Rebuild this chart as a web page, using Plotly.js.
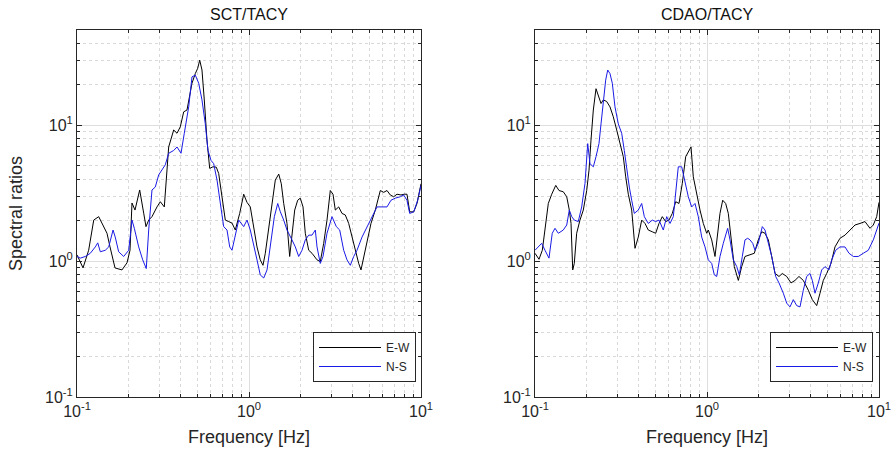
<!DOCTYPE html>
<html>
<head>
<meta charset="utf-8">
<script src="https://cdn.plot.ly/plotly-3.0.1.min.js"></script>
<style>
html,body{margin:0;padding:0;background:#fff;}
#chart{width:892px;height:461px;}
</style>
</head>
<body>
<div id="chart"></div>
<script>
// ---------- Data ----------
const panelTitles = ['SCT/TACY', 'CDAO/TACY'];
const seriesNames = ['E-W', 'N-S'];
const xTitle = 'Frequency [Hz]';
const yTitle = 'Spectral ratios';
const tickVals = [0.1, 1, 10];
const tickText = ['10<sup>-1</sup>', '10<sup>0</sup>', '10<sup>1</sup>'];

// SCT/TACY, E-W
const sctEwFreq = [0.100,0.1084,0.1169,0.1251,0.1337,0.1397,0.1494,0.1556,0.1663,0.1826,0.1953,0.2033,0.2088,0.2174,0.2315,0.2442,0.2518,0.2611,0.2729,0.2918,0.3050,0.3218,0.3305,0.3412,0.3649,0.3814,0.3986,0.4172,0.4360,0.4662,0.4873,0.5031,0.5169,0.5329,0.5496,0.5698,0.5907,0.6175,0.6454,0.6665,0.6966,0.7281,0.7621,0.7966,0.8325,0.8828,0.9315,0.9736,1.0176,1.065,1.113,1.163,1.206,1.244,1.302,1.361,1.422,1.489,1.541,1.591,1.663,1.724,1.778,1.844,1.919,1.987,2.061,2.125,2.224,2.325,2.486,2.597,2.718,2.841,2.970,3.079,3.175,3.323,3.473,3.630,3.799,3.971,4.150,4.343,4.479,4.644,4.853,5.120,5.424,5.799,6.069,6.343,6.630,6.939,7.252,7.650,7.995,8.289,8.595,9.071,9.478,10.0];
const sctEwRatio = [1.11,0.89,1.2,2.0,2.12,1.9,1.6,1.27,0.89,0.86,0.97,1.2,2.67,2.37,3.33,2.25,1.79,2.0,2.12,2.5,2.73,2.5,4.16,6.9,9.2,8.7,9.7,12.5,12.9,20.3,23.9,26.1,30,25.4,15.3,7.75,4.8,4.93,4.9,4.4,2.97,2.0,1.95,1.9,1.69,2.24,3.1,2.7,2.5,1.79,1.27,1.02,0.93,1.14,1.79,2.8,3.94,4.36,3.7,2.65,1.89,1.08,1.5,2.37,2.8,2.9,2.5,1.6,1.2,1.14,1.02,0.99,1.35,2.0,3.3,3.1,2.37,2.5,2.24,2.18,1.89,1.5,1.2,0.96,0.86,1.08,1.43,1.89,2.37,3.3,3.2,3.3,3.06,2.97,3.1,3.06,3.1,3.1,2.3,2.3,2.65,3.7];

// SCT/TACY, N-S
const sctNsFreq = [0.100,0.1045,0.1118,0.1195,0.1278,0.132,0.1366,0.146,0.1529,0.162,0.1668,0.1747,0.1868,0.1998,0.2088,0.2154,0.2284,0.2410,0.2528,0.2611,0.2729,0.2852,0.2985,0.3120,0.3261,0.3412,0.3649,0.3814,0.4024,0.4205,0.4461,0.4662,0.4873,0.5099,0.5329,0.5570,0.5775,0.6012,0.6233,0.6516,0.6874,0.7127,0.7449,0.7724,0.7966,0.8214,0.8711,0.9315,0.9736,1.0176,1.065,1.113,1.163,1.218,1.273,1.330,1.404,1.469,1.521,1.591,1.663,1.778,1.859,1.945,2.033,2.125,2.224,2.325,2.430,2.486,2.597,2.693,2.841,3.038,3.218,3.368,3.553,3.714,3.882,4.062,4.246,4.539,4.853,5.189,5.548,5.932,6.343,6.693,7.089,7.580,7.931,8.289,8.595,9.071,9.568,10.0];
const sctNsRatio = [1.08,1.05,1.08,1.14,1.27,1.36,1.17,1.2,1.27,1.69,1.5,1.17,1.08,1.2,2.0,1.74,1.27,1.02,0.88,1.69,3.33,3.5,4.3,4.66,5.1,6.2,6.5,6.9,6.2,8.7,13.6,22.6,23.3,20.3,15.3,10.2,6.5,5.5,5.2,3.94,2.5,1.79,1.69,1.27,1.2,1.43,2.0,1.79,2.0,1.69,1.27,1.02,0.79,0.75,0.86,1.27,2.12,2.65,2.3,2.0,1.69,1.43,1.27,1.08,1.2,1.43,1.55,1.55,1.69,1.27,0.96,1.08,1.6,2.12,1.79,1.69,1.2,1.02,0.93,1.08,1.2,1.5,1.79,2.12,2.5,2.5,2.5,2.8,2.9,2.97,3.06,2.8,2.24,2.3,2.8,3.6];

// CDAO/TACY, E-W
const cdaoEwFreq = [0.100,0.1055,0.1103,0.1143,0.1195,0.1251,0.132,0.1379,0.146,0.1529,0.1583,0.162,0.1657,0.1692,0.1747,0.1826,0.1909,0.1998,0.2061,0.2116,0.2183,0.2263,0.2333,0.242,0.2495,0.2611,0.2729,0.2852,0.2985,0.312,0.3261,0.3368,0.3487,0.3649,0.3814,0.3986,0.4172,0.436,0.4557,0.4808,0.5031,0.5259,0.5496,0.5752,0.6012,0.6285,0.6577,0.6874,0.7185,0.7519,0.7857,0.8072,0.8325,0.8711,0.9106,0.9517,0.9960,1.0176,1.065,1.113,1.154,1.190,1.234,1.284,1.330,1.379,1.441,1.521,1.591,1.663,1.778,1.884,1.987,2.080,2.174,2.273,2.378,2.486,2.622,2.741,2.906,3.079,3.248,3.426,3.630,3.882,4.095,4.343,4.539,4.745,4.966,5.259,5.548,5.932,6.343,6.783,7.252,7.754,8.289,8.865,9.267,9.696,10.0];
const cdaoEwRatio = [1.14,1.03,1.2,1.69,2.65,3.1,3.6,3.3,3.23,2.97,2.37,1.89,0.86,0.96,1.6,2.0,2.37,3.3,4.66,7.75,12.9,18.5,16.2,14.4,15.3,14.9,13.6,11.5,9.2,7.3,5.85,4.16,3.1,2.37,1.24,1.5,2.0,1.89,1.69,1.64,1.6,1.89,2.12,1.95,2.0,2.24,2.73,2.65,3.73,5.85,6.5,6.9,4.16,3.1,2.37,1.89,1.6,1.69,1.43,1.08,1.6,2.24,2.8,2.65,2.24,1.43,0.91,0.72,0.91,1.08,1.11,1.14,1.43,1.64,1.6,1.43,1.08,0.81,0.77,0.81,0.77,0.69,0.72,0.77,0.72,0.61,0.52,0.47,0.58,0.72,0.81,0.96,1.27,1.47,1.55,1.69,1.84,1.89,1.95,1.74,1.84,2.12,2.7];

// CDAO/TACY, N-S
const cdaoNsFreq = [0.100,0.1045,0.1094,0.1143,0.1206,0.126,0.1307,0.1366,0.146,0.1529,0.1583,0.1635,0.1692,0.1785,0.1868,0.1953,0.2025,0.2088,0.2183,0.2263,0.2355,0.242,0.2495,0.2576,0.2647,0.2729,0.2815,0.2918,0.305,0.3192,0.3305,0.3412,0.3534,0.3649,0.3778,0.3986,0.4172,0.4321,0.4557,0.4808,0.5031,0.5259,0.557,0.5831,0.6094,0.637,0.6577,0.6809,0.7127,0.7449,0.7786,0.8147,0.8515,0.89,0.9315,0.9736,1.0176,1.065,1.103,1.139,1.19,1.244,1.29,1.319,1.361,1.422,1.489,1.541,1.604,1.663,1.724,1.778,1.844,1.901,1.987,2.097,2.174,2.273,2.378,2.508,2.622,2.778,2.906,3.038,3.175,3.323,3.473,3.63,3.799,3.971,4.095,4.246,4.438,4.644,4.853,5.12,5.309,5.601,5.932,6.343,6.693,7.089,7.58,8.103,8.665,9.267,9.696,10.0];
const cdaoNsRatio = [1.2,1.27,1.35,1.2,1.05,1.6,1.74,1.6,1.69,1.84,2.37,2.12,2.0,1.95,2.5,3.73,7.3,5.2,4.93,5.85,7.3,10.2,15.3,21.4,25.4,23.9,20.3,13.6,10.2,8.7,6.5,4.66,3.5,2.8,2.24,2.37,2.65,2.12,1.89,2.0,1.95,2.0,1.69,2.12,1.89,2.12,3.33,4.93,4.93,3.73,2.97,2.5,2.65,2.12,1.5,1.27,1.02,0.96,0.79,0.77,1.08,1.35,1.6,1.74,1.43,1.02,0.91,0.79,1.08,1.43,1.47,1.43,1.35,1.2,1.35,1.79,1.69,1.35,1.08,0.77,0.69,0.58,0.49,0.46,0.52,0.47,0.46,0.61,0.77,0.81,0.72,0.58,0.69,0.86,0.91,0.86,1.02,1.2,1.27,1.27,1.14,1.08,1.08,1.14,1.2,1.43,1.69,1.9];

// ---------- Styling ----------
const W = 892, H = 461;
const txt = '#262626';
const ewColor = '#000000';
const nsColor = '#1a1ae6';
const font = 'Liberation Sans, Arial, Helvetica, sans-serif';

const minorVals = [];
for (let e = -1; e <= 1; e++) for (let m = 2; m <= 9; m++) minorVals.push(m * Math.pow(10, e));

function trace(x, y, name, color, xa, ya, leg) {
  return {x: x, y: y, name: name, type: 'scatter', mode: 'lines',
          line: {color: color, width: 1}, xaxis: xa, yaxis: ya, legend: leg};
}

const data = [
  trace(sctEwFreq, sctEwRatio, seriesNames[0], ewColor, 'x', 'y', 'legend'),
  trace(sctNsFreq, sctNsRatio, seriesNames[1], nsColor, 'x', 'y', 'legend'),
  trace(cdaoEwFreq, cdaoEwRatio, seriesNames[0], ewColor, 'x2', 'y2', 'legend2'),
  trace(cdaoNsFreq, cdaoNsRatio, seriesNames[1], nsColor, 'x2', 'y2', 'legend2')
];

const yDom = [1 - 397 / H, 1 - 30 / H];
const xDom1 = [77 / W, 421 / W];
const xDom2 = [535 / W, 879 / W];

function commonAxis() {
  return {
    type: 'log', tickvals: tickVals, ticktext: tickText,
    ticks: 'inside', ticklen: 5, tickcolor: txt,
    showline: true, linecolor: txt, linewidth: 1, mirror: 'ticks',
    showgrid: true, gridcolor: '#dedede', gridwidth: 1,
    zeroline: false,
    tickfont: {family: font, size: 16, color: txt},
    minor: {tickvals: minorVals, ticks: 'inside', ticklen: 3, tickcolor: txt,
            showgrid: true, gridcolor: '#d9d9d9', griddash: 'dot', gridwidth: 1},
    automargin: false
  };
}
function xAxis(dom, anchor) {
  const a = commonAxis();
  a.range = [-1, 1]; a.domain = dom; a.anchor = anchor;
  a.title = {text: xTitle, font: {family: font, size: 18, color: txt}, standoff: 11};
  return a;
}
function yAxis(anchor, withTitle) {
  const a = commonAxis();
  a.range = [-1, Math.log10(50)]; a.domain = yDom; a.anchor = anchor;
  if (withTitle) a.title = {text: yTitle, font: {family: font, size: 18, color: txt}, standoff: 17};
  return a;
}

function legendBox(xRight) {
  return {x: xRight, y: 1 - 382 / H, xanchor: 'right', yanchor: 'bottom',
          bgcolor: '#ffffff', bordercolor: txt, borderwidth: 1,
          font: {family: font, size: 12, color: txt},
          tracegroupgap: 0, itemwidth: 62};
}

const layout = {
  width: W, height: H,
  margin: {l: 0, r: 0, t: 0, b: 0},
  paper_bgcolor: '#ffffff', plot_bgcolor: '#ffffff',
  font: {family: font, color: txt},
  showlegend: true,
  xaxis: xAxis(xDom1, 'y'),
  yaxis: yAxis('x', true),
  xaxis2: xAxis(xDom2, 'y2'),
  yaxis2: yAxis('x2', false),
  legend: legendBox(416 / W),
  legend2: legendBox(873 / W),
  annotations: [
    {text: panelTitles[0], x: (xDom1[0] + xDom1[1]) / 2, y: 1 - 15 / H, xref: 'paper', yref: 'paper',
     xanchor: 'center', yanchor: 'middle', showarrow: false, font: {family: font, size: 16, color: '#111'}},
    {text: panelTitles[1], x: (xDom2[0] + xDom2[1]) / 2, y: 1 - 15 / H, xref: 'paper', yref: 'paper',
     xanchor: 'center', yanchor: 'middle', showarrow: false, font: {family: font, size: 16, color: '#111'}}
  ]
};

Plotly.newPlot('chart', data, layout, {displayModeBar: false, staticPlot: true});
</script>
</body>
</html>
